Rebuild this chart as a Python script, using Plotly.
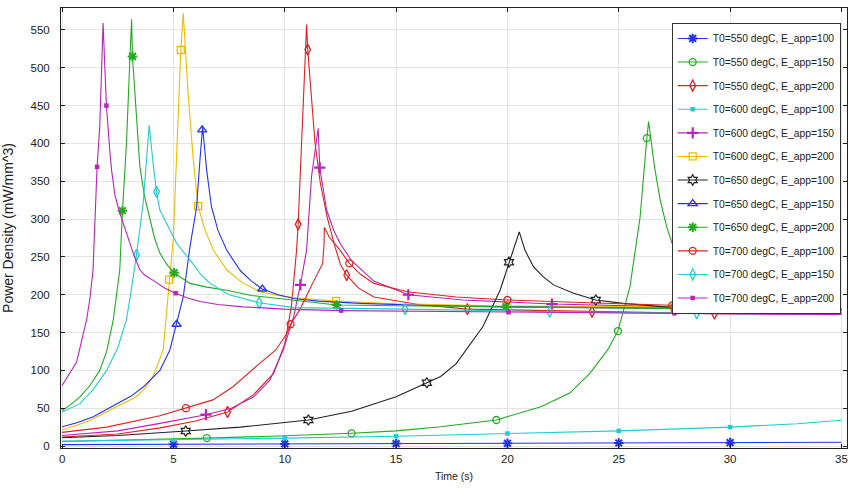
import plotly.graph_objects as go

# ---------------- data ----------------
labels = [
    "T0=550 degC, E_app=100", "T0=550 degC, E_app=150", "T0=550 degC, E_app=200",
    "T0=600 degC, E_app=100", "T0=600 degC, E_app=150", "T0=600 degC, E_app=200",
    "T0=650 degC, E_app=100", "T0=650 degC, E_app=150", "T0=650 degC, E_app=200",
    "T0=700 degC, E_app=100", "T0=700 degC, E_app=150", "T0=700 degC, E_app=200",
]

t_550_100 = [0, 5, 10, 15, 20, 25, 30, 35]
p_550_100 = [1.8, 2.3, 2.8, 3.2, 3.6, 4.0, 4.5, 5.0]
mt_550_100 = [5, 10, 15, 20, 25, 30]
mp_550_100 = [2.3, 2.8, 3.2, 3.6, 4.0, 4.5]

t_550_150 = [0, 2.5, 5, 6.5, 10, 13, 15, 17, 19.5, 21.5, 22.8, 23.7, 24.5, 24.96, 25.5, 25.96,
             26.26, 26.34, 26.6, 26.86, 27.15, 27.45, 27.76, 28.5, 29.3, 30.5, 32, 35]
p_550_150 = [6, 7.5, 9, 10.5, 13.5, 16.8, 20, 25.5, 34.4, 52, 70, 96, 127, 152, 210, 303,
             407, 429, 370, 325, 290, 263, 242, 215, 200, 190, 184, 180]
mt_550_150 = [6.5, 13, 19.5, 24.96, 26.26]
mp_550_150 = [10.5, 16.8, 34.4, 152, 407]

t_550_200 = [0, 2.5, 4.4, 6, 7.43, 8.6, 9.5, 10.0, 10.3, 10.53, 10.6, 10.76, 10.9, 10.98, 11.03,
             11.13, 11.36, 11.6, 11.9, 12.26, 12.5, 12.78, 13.3, 14, 14.7, 16, 18.2, 20, 23.8, 29.3, 35]
p_550_200 = [12, 16, 24, 33, 45, 68, 96, 135, 185, 259, 293, 400, 510, 557, 524,
             488, 400, 347, 303, 263, 240, 226, 209, 197, 193.6, 187, 181, 180, 177.5, 175, 174]
mt_550_200 = [7.43, 10.6, 11.03, 12.78, 18.2, 23.8, 29.3]
mp_550_200 = [45, 293, 524, 226, 181, 177.5, 175]

t_600_100 = [0, 5, 10, 15, 20, 25, 30, 33, 35]
p_600_100 = [6.5, 8, 10.5, 13, 16.5, 20, 25, 29.5, 34]
mt_600_100 = [5, 10, 15, 20, 25, 30]
mp_600_100 = [8, 10.5, 13, 16.5, 20, 25]

t_600_150 = [0, 2.5, 4.39, 6.46, 7.6, 8.6, 9.33, 9.93, 10.4, 10.7, 10.98, 11.2, 11.5, 11.57, 11.88,
             12.2, 12.48, 13.0, 14.0, 15.55, 18, 22.0, 27.5, 35]
p_600_150 = [14, 20, 30, 41.4, 50, 65, 87, 127, 171, 213, 259, 356, 420, 368, 312,
             285, 268, 245, 218, 200, 193, 187.7, 184, 180]
mt_600_150 = [6.46, 10.7, 11.57, 15.55, 22.0]
mp_600_150 = [41.4, 213, 368, 200, 187.7]

t_600_200 = [0, 1.2, 2.44, 3.34, 3.7, 4.09, 4.54, 4.81, 5.0, 5.07, 5.21, 5.33, 5.44, 5.66, 5.89,
             6.11, 6.4, 6.79, 7.39, 8.13, 8.9, 9.7, 10.5, 12.3, 15, 20, 27.5, 35]
p_600_200 = [21, 33, 52, 65, 76, 92, 127, 220, 277, 330, 444, 523.5, 572, 466, 378,
             317, 287, 259, 233, 215, 204, 199, 196, 191.7, 188, 185, 184, 182]
mt_600_200 = [4.81, 5.33, 6.11, 12.3, 20, 27.5]
mp_600_200 = [220, 523.5, 317, 191.7, 185, 184]

t_650_100 = [0, 2.5, 5.55, 8, 11.06, 13, 15, 16.38, 17.0, 17.7, 18.9, 19.67, 20.07, 20.53, 20.8,
             21.17, 21.6, 22.07, 22.97, 23.97, 25.2, 27.46, 30, 35]
p_650_100 = [11, 14, 19.8, 25, 34.4, 46, 65, 83.7, 92, 109, 158, 206, 243, 283, 258,
             237, 224, 213, 202, 193, 188.6, 183, 180, 177]
mt_650_100 = [5.55, 11.06, 16.38, 20.07, 23.97]
mp_650_100 = [19.8, 34.4, 83.7, 243, 193]

t_650_150 = [0, 0.7, 1.4, 2.44, 3.1, 3.64, 4.0, 4.39, 4.84, 5.14, 5.44, 5.74, 6.04, 6.19, 6.31,
             6.49, 6.71, 7.0, 7.39, 8.0, 8.5, 8.99, 9.7, 10.4, 11.5, 13.4, 16, 20, 27.5, 35]
p_650_150 = [25.5, 31, 38.8, 56, 66, 78, 88, 100, 127, 161, 197, 263, 316, 378, 422,
             365, 316, 285, 259, 232, 218, 207.6, 200, 195, 191.5, 188.6, 186, 184, 182, 180]
mt_650_150 = [5.14, 6.29, 8.99]
mp_650_150 = [161, 418, 207.6]

t_650_200 = [0, 0.4, 0.8, 1.25, 1.69, 2.0, 2.3, 2.59, 2.71, 2.89, 3.0, 3.12, 3.16, 3.3, 3.49, 3.7,
             3.94, 4.15, 4.39, 4.7, 5.03, 5.74, 6.5, 7.39, 8.5, 10.4, 12.33, 16, 19.93, 27.5, 35]
p_650_200 = [47, 55, 65, 80, 100, 125, 167, 233, 311, 400, 480, 564, 515, 450, 370, 330,
             299, 275, 255, 240, 229, 215, 210, 206, 199, 193, 186.4, 185, 184, 182, 179]
mt_650_200 = [2.71, 3.16, 5.03, 12.33, 19.93, 27.5]
mp_650_200 = [311, 515, 229, 186.4, 184, 182]

t_700_100 = [0, 2, 4.39, 5.56, 6.77, 7.66, 8.7, 9.6, 10.1, 10.26, 10.67, 11.25, 11.7, 11.76,
             11.78, 12.0, 12.48, 12.9, 13.4, 14, 15.5, 17.7, 20, 24, 27.4, 35]
p_700_100 = [18, 25, 40, 50, 61, 78, 105, 127, 149, 161, 180, 215, 241, 265,
             289, 276, 259, 241.5, 227, 215, 204, 197, 193, 189, 186, 182]
mt_700_100 = [5.56, 10.26, 12.9, 20.0, 27.4]
mp_700_100 = [50, 161, 241.5, 193, 186]

t_700_150 = [0, 0.8, 1.4, 2.0, 2.5, 2.89, 3.1, 3.34, 3.64, 3.76, 3.91, 4.1, 4.24, 4.39, 4.69, 5.14,
             5.74, 6.2, 6.64, 7.5, 8.85, 10.4, 15.4, 21.9, 28.5, 35]
p_700_150 = [45, 56, 75, 100, 130, 167, 205, 252.5, 321, 365, 424, 370, 336, 312, 294, 268,
             246, 228, 215, 200, 189.5, 183, 181, 177.6, 175.4, 174]
mt_700_150 = [3.34, 4.24, 8.85, 15.4, 21.9, 28.5]
mp_700_150 = [252.5, 336, 189.5, 181, 177.6, 175.4]

t_700_200 = [0, 0.3, 0.65, 1.1, 1.25, 1.39, 1.57, 1.69, 1.84, 1.92, 1.99, 2.14, 2.22, 2.37, 2.55,
             2.74, 3.0, 3.19, 3.49, 3.7, 4.09, 4.6, 5.1, 5.6, 6.19, 7.0, 8.13, 10, 12.53, 20.05, 27.5, 35]
p_700_200 = [80, 95, 111, 167, 195, 233, 369, 422, 559, 500, 450, 391, 365, 332, 312,
             295, 270, 255, 233, 226, 219, 209, 202, 196, 191, 187, 184, 181, 179, 176.8, 175.4, 174]
mt_700_200 = [1.57, 1.99, 5.1, 12.53, 20.05, 27.5]
mp_700_200 = [369, 450, 202, 179, 176.8, 175.4]

x_ticks = [0, 5, 10, 15, 20, 25, 30, 35]
y_ticks = [0, 50, 100, 150, 200, 250, 300, 350, 400, 450, 500, 550]

# ---------------- styles ----------------
BLUE, GREEN, RED, CYAN, MAG, YEL, BLK = "#2233ee", "#22aa22", "#dd2222", "#22cccc", "#bb22bb", "#eebb00", "#222222"

series = [
    (t_550_100, p_550_100, mt_550_100, mp_550_100, BLUE, "asterisk-open", 8, 2),
    (t_550_150, p_550_150, mt_550_150, mp_550_150, GREEN, "circle-open", 7, 1.3),
    (t_550_200, p_550_200, mt_550_200, mp_550_200, RED, "diamond-tall-open", 8, 1.3),
    (t_600_100, p_600_100, mt_600_100, mp_600_100, CYAN, "square", 4.5, 0),
    (t_600_150, p_600_150, mt_600_150, mp_600_150, MAG, "cross-thin-open", 8, 2.2),
    (t_600_200, p_600_200, mt_600_200, mp_600_200, YEL, "square-open", 7, 1.3),
    (t_650_100, p_650_100, mt_650_100, mp_650_100, BLK, "hexagram-open", 8, 1.2),
    (t_650_150, p_650_150, mt_650_150, mp_650_150, BLUE, "triangle-up-open", 8, 1.3),
    (t_650_200, p_650_200, mt_650_200, mp_650_200, GREEN, "asterisk-open", 8, 2),
    (t_700_100, p_700_100, mt_700_100, mp_700_100, RED, "circle-open", 7, 1.3),
    (t_700_150, p_700_150, mt_700_150, mp_700_150, CYAN, "diamond-tall-open", 8, 1.3),
    (t_700_200, p_700_200, mt_700_200, mp_700_200, MAG, "square", 4.5, 0),
]

FONT = "Liberation Sans, Arial, sans-serif"

fig = go.Figure()
for name, (t, p, mt, mp, col, sym, msz, mlw) in zip(labels, series):
    mk = dict(symbol=sym, size=msz, color=col, line=dict(color=col, width=mlw))
    fig.add_trace(go.Scatter(x=t, y=p, mode="lines", line=dict(color=col, width=1.1),
                             legendgroup=name, showlegend=False, hoverinfo="skip"))
    fig.add_trace(go.Scatter(x=mt, y=mp, mode="markers", marker=mk,
                             legendgroup=name, showlegend=False))
    fig.add_trace(go.Scatter(x=[None], y=[None], mode="lines+markers", name=name,
                             line=dict(color=col, width=1.1), marker=mk, legendgroup=name))

axis_common = dict(
    showline=True, linecolor="#222222", linewidth=1, mirror="ticks",
    ticks="inside", ticklen=4, tickcolor="#222222",
    showgrid=True, gridcolor="#e4e4e4", gridwidth=1, zeroline=False,
    tickfont=dict(family=FONT, size=11.5, color="#222222"),
)

fig.update_xaxes(range=[-0.05, 35.25], tickvals=x_ticks,
                 title=dict(text="Time (s)", font=dict(family=FONT, size=10.5, color="#222222"), standoff=8),
                 **axis_common)
fig.update_yaxes(range=[-2.6, 579], tickvals=y_ticks, ticklabelstandoff=8,
                 title=dict(text="Power Density (mW/mm^3)", font=dict(family=FONT, size=14, color="#222222"), standoff=14),
                 **axis_common)

fig.update_layout(
    width=856, height=490,
    margin=dict(l=61, r=9, t=8, b=42),
    paper_bgcolor="white", plot_bgcolor="white",
    showlegend=True,
    legend=dict(x=0.992, y=0.966, xanchor="right", yanchor="top",
                bgcolor="white", bordercolor="#333333", borderwidth=1,
                font=dict(family=FONT, size=10.3, color="#222222"),
                traceorder="grouped", tracegroupgap=4.6, itemwidth=30),
)

fig.write_html("out.html")
